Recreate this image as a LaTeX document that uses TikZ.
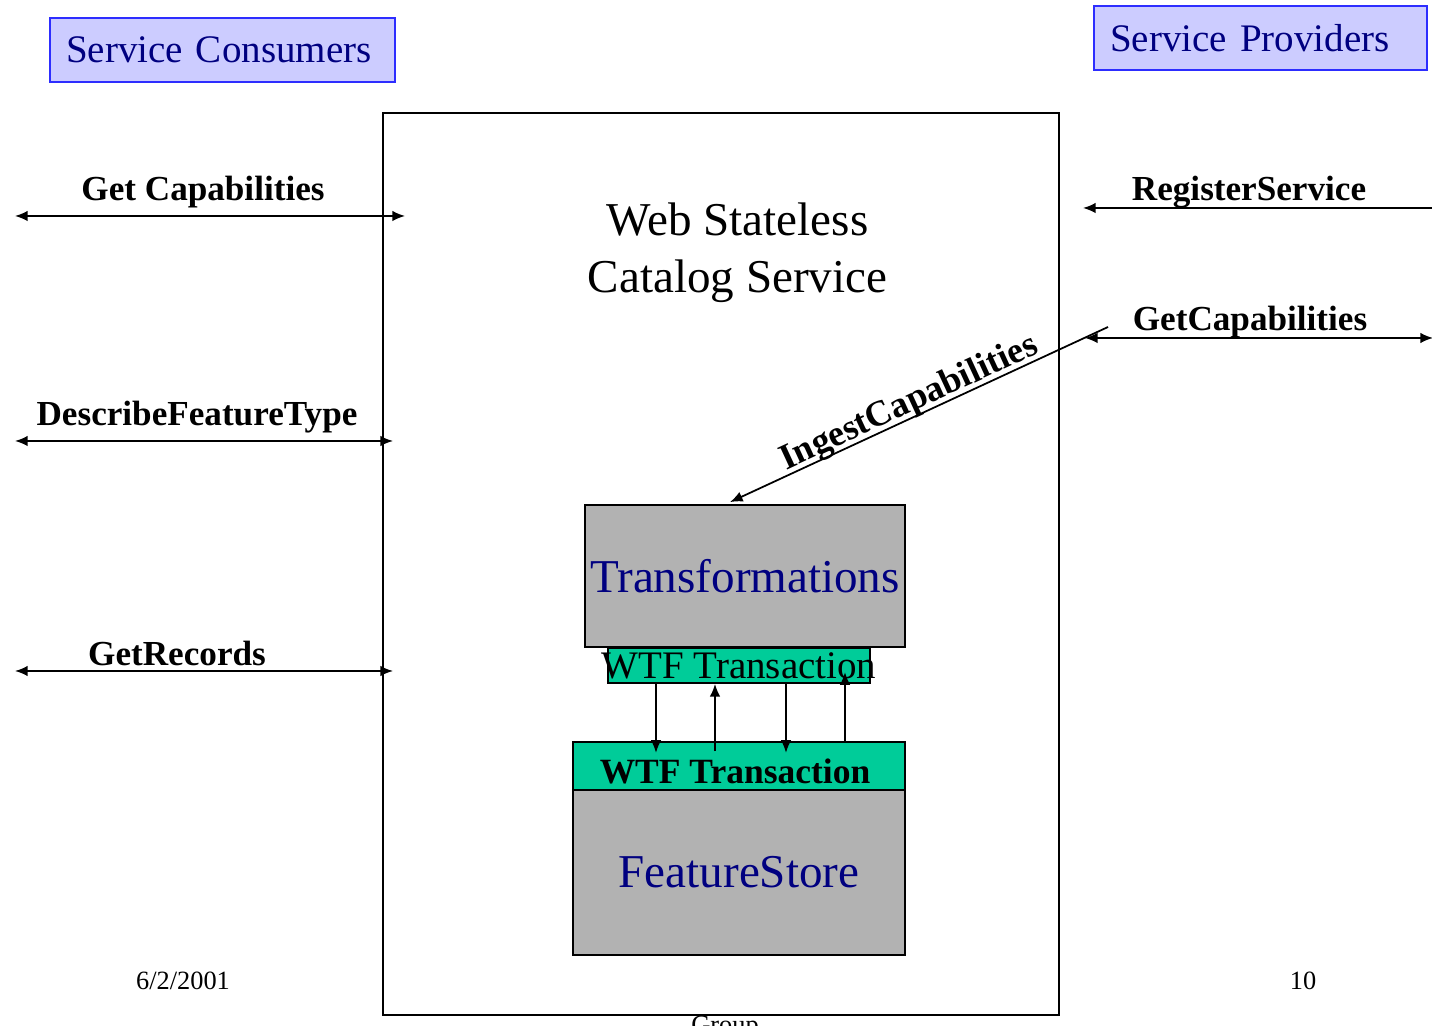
\documentclass[tikz,border=0pt]{standalone}
\usepackage{fontspec}
\setmainfont{Liberation Serif}
\usetikzlibrary{arrows.meta,calc}
\definecolor{rolefill}{RGB}{204,204,255}
\definecolor{roleedge}{RGB}{45,45,255}
\definecolor{navytext}{RGB}{0,0,128}
\definecolor{wtfgreen}{RGB}{0,204,153}
\definecolor{storegray}{RGB}{178,178,178}

\begin{document}
\begin{tikzpicture}[>={Latex[length=3.6pt,width=3pt]}, line width=0.5pt,
	rolebox/.style={draw=roleedge, fill=rolefill, line width=0.7pt, text=navytext,
		font=\fontsize{11.1}{13}\selectfont, minimum height=0.64cm, inner ysep=0pt,
		inner xsep=0.16cm, align=left},
	opname/.style={anchor=base, font=\fontsize{10}{12}\selectfont\bfseries},
	graybox/.style={draw, fill=storegray, text=navytext, inner sep=0pt,
		font=\fontsize{13.4}{16}\selectfont},
	wtfbox/.style={draw, fill=wtfgreen, inner sep=0pt},
	slidetext/.style={anchor=base, font=\fontsize{7.5}{9}\selectfont}]
\useasboundingbox (0,0) rectangle (14.32,-10.26);
%roles
\node[rolebox, text width=3.13cm] (consumers) at (2.225,-0.50) {Service Consumers};
\node[rolebox, text width=3.01cm] (providers) at (12.605,-0.38) {Service Providers};
%catalog service
\node[draw, inner sep=0pt, minimum width=6.76cm, minimum height=9.02cm] (catalog) at (7.21,-5.64) {};
\node[align=center, font=\fontsize{13.4}{16.2}\selectfont] (title) at (7.375,-2.53) {Web Stateless\\Catalog Service};
%transformations and store
\node[graybox, minimum width=3.20cm, minimum height=1.42cm] (trans) at (7.45,-5.76) {Transformations};
\node[wtfbox, minimum width=2.62cm, minimum height=0.35cm,
	label={[font=\fontsize{11.1}{13}\selectfont]center:WTF Transaction}] (wtfup) at (7.39,-6.655) {};
\node[graybox, minimum width=3.32cm, minimum height=1.65cm] (store) at (7.39,-8.725) {FeatureStore};
\node[wtfbox, minimum width=3.32cm, minimum height=0.48cm,
	label={[font=\fontsize{10.1}{12}\selectfont\bfseries, xshift=-0.04cm, yshift=-0.05cm]center:WTF Transaction}] (wtfdown) at (7.39,-7.66) {};
\draw[->] (wtfup.south -| 6.56,0) -- +(0,-0.69);
\draw[->] (wtfdown.north -| 7.15,0) ++(0,-0.10) -- (wtfup.south -| 7.15,0);
\draw[->] (wtfup.south -| 7.86,0) -- +(0,-0.69);
\draw[->] (wtfdown.north -| 8.45,0) -- +(0,0.69);
%consumer requests
\coordinate (gc-a) at (0.15,-2.16);
\coordinate (gc-b) at (4.05,-2.16);
\draw[<->] (gc-a) -- (gc-b);
\node[opname] (gc) at (2.03,-2.01) {Get Capabilities};
\coordinate (dft-a) at (0.15,-4.41);
\coordinate (dft-b) at (3.93,-4.41);
\draw[<->] (dft-a) -- (dft-b);
\node[opname] (dft) at (1.97,-4.26) {DescribeFeatureType};
\coordinate (gr-a) at (0.15,-6.71);
\coordinate (gr-b) at (3.93,-6.71);
\draw[<->] (gr-a) -- (gr-b);
\node[opname] (gr) at (1.77,-6.66) {GetRecords};
%provider requests
\coordinate (rs-a) at (10.83,-2.08);
\coordinate (rs-b) at (14.34,-2.08);
\draw[<-] (rs-a) -- (rs-b);
\node[opname] (rs) at (12.49,-2.01) {RegisterService};
\coordinate (pgc-a) at (10.85,-3.38);
\coordinate (pgc-b) at (14.33,-3.38);
\draw[<->] (pgc-a) -- (pgc-b);
\node[opname] (pgc) at (12.50,-3.31) {GetCapabilities};
%ingest
\coordinate (ingest-a) at (11.08,-3.27);
\draw[->] (ingest-a) -- node[sloped, above=-1pt, inner sep=0pt, pos=0.51,
	font=\fontsize{10.3}{12}\selectfont\bfseries] (ingest) {IngestCapabilities} ($(trans.north)+(-0.15,0.02)$);
%footer
\node[slidetext] (date) at (1.83,-9.89) {6/2/2001};
\node[slidetext] (page) at (13.03,-9.89) {10};
\node[slidetext] (group) at (7.25,-10.33) {Group};
\end{tikzpicture}
\end{document}
